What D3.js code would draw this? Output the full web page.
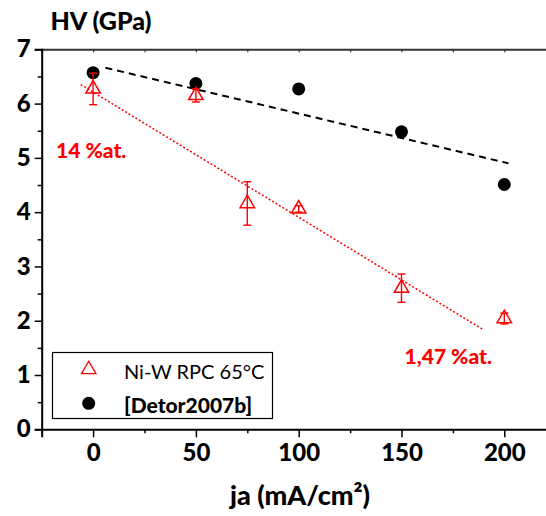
<!DOCTYPE html>
<html><head><meta charset="utf-8">
<script src="https://cdn.jsdelivr.net/npm/d3@7"></script>
<style>body{margin:0;background:#fff}svg{display:block}</style>
</head><body><svg id="c" width="546" height="516"></svg>
<script>
// ---- data ----
const currents = [0, 50, 75, 100, 150, 200];
const hvNiW = [6.27, 6.15, 4.16, 4.06, 2.60, 2.04];
const errNiW = [0.29, 0.12, 0.40, 0.06, 0.26, 0.10];
const detorCurrents = [0, 50, 100, 150, 200];
const hvDetor = [6.57, 6.37, 6.27, 5.48, 4.51];
const fitNiWX = [-6, 190];
const fitNiWY = [6.35, 1.83];
const fitDetorX = [6, 202];
const fitDetorY = [6.66, 4.90];
const xTicks = [0, 50, 100, 150, 200];
const yTicks = [0, 1, 2, 3, 4, 5, 6, 7];
const legendLabels = ["Ni-W RPC 65°C", "[Detor2007b]"];
const annotations = [{t: "14 %at.", x: -18, y: 5.0}, {t: "1,47 %at.", x: 151.5, y: 1.2}];

const svg = d3.select("#c");
const FONT = "Lato, 'Open Sans', sans-serif";
const HEAVY = 900;
const RED = "#ff0000";

const x = d3.scaleLinear().domain([-25, 225]).range([41.7, 555.7]);
const y = d3.scaleLinear().domain([0, 7]).range([429.3, 49.3]);

// top border with inward ticks
const topAxis = d3.axisTop(x).tickValues(d3.range(-25, 226, 25)).tickSize(-3).tickFormat("");
const gTop = svg.append("g").attr("transform", `translate(0,${y(7)})`).call(topAxis);
gTop.select(".domain").attr("stroke", "#333").attr("stroke-width", 2);
gTop.selectAll(".tick line").attr("stroke", "#333").attr("stroke-width", 1.2);

// bottom axis
const gx = svg.append("g").attr("transform", `translate(0,${y(0)})`);
gx.call(d3.axisBottom(x).tickValues(xTicks).tickSize(8).tickPadding(7).tickFormat(d3.format("d")));
gx.append("g").call(d3.axisBottom(x).tickValues(d3.range(-25, 226, 50)).tickSize(4).tickFormat(""))
  .select(".domain").remove();
gx.selectAll(".domain").attr("stroke", "#000").attr("stroke-width", 2);
gx.selectAll(".tick line").attr("stroke", "#000").attr("stroke-width", 1.5);
gx.selectAll(".tick text").attr("font-family", FONT).attr("font-weight", HEAVY).attr("font-size", 24).attr("fill", "#000");

// left axis
const gy = svg.append("g").attr("transform", `translate(${x(-25)},0)`);
gy.call(d3.axisLeft(y).tickValues(yTicks).tickSize(7).tickPadding(4).tickFormat(d3.format("d")));
gy.append("g").call(d3.axisLeft(y).tickValues(d3.range(0.5, 7, 1)).tickSize(4).tickFormat(""))
  .select(".domain").remove();
gy.selectAll(".domain").attr("stroke", "#000").attr("stroke-width", 2);
gy.selectAll(".tick line").attr("stroke", "#000").attr("stroke-width", 1.5);
gy.selectAll(".tick text").attr("font-family", FONT).attr("font-weight", HEAVY).attr("font-size", 24).attr("fill", "#000");

// fit lines
const line = d3.line().x(d => x(d[0])).y(d => y(d[1]));
svg.append("path").datum(d3.zip(fitDetorX, fitDetorY)).attr("d", line)
  .attr("fill", "none").attr("stroke", "#000").attr("stroke-width", 2).attr("stroke-dasharray", "7,5");
svg.append("path").datum(d3.zip(fitNiWX, fitNiWY)).attr("d", line)
  .attr("fill", "none").attr("stroke", RED).attr("stroke-width", 1.5).attr("stroke-dasharray", "2,2");

// Detor points
svg.append("g").selectAll("circle").data(d3.zip(detorCurrents, hvDetor)).join("circle")
  .attr("cx", d => x(d[0])).attr("cy", d => y(d[1])).attr("r", 6.5).attr("fill", "#000");

// Ni-W error bars
const niw = currents.map((c, i) => ({c, v: hvNiW[i], e: errNiW[i]}));
const eb = svg.append("g").attr("stroke", RED).attr("stroke-width", 1.4).attr("fill", "none");
niw.forEach(d => {
  const cx = x(d.c);
  eb.append("line").attr("x1", cx).attr("x2", cx).attr("y1", y(d.v - d.e)).attr("y2", y(d.v + d.e));
  [d.v - d.e, d.v + d.e].forEach(v => eb.append("line").attr("x1", cx - 4).attr("x2", cx + 4).attr("y1", y(v)).attr("y2", y(v)));
});
const tri = d3.symbol().type(d3.symbolTriangle).size(90);
svg.append("g").selectAll("path").data(niw).join("path")
  .attr("d", tri).attr("transform", d => `translate(${x(d.c)},${y(d.v)})`)
  .attr("fill", "none").attr("stroke", RED).attr("stroke-width", 1.5);

// annotations
svg.append("g").selectAll("text").data(annotations).join("text")
  .attr("x", d => x(d.x)).attr("y", d => y(d.y)).text(d => d.t)
  .attr("font-family", FONT).attr("font-weight", HEAVY).attr("font-size", 21).attr("fill", RED);

// titles
svg.append("text").attr("x", 50.5).attr("y", 30).text("HV (GPa)")
  .attr("font-family", FONT).attr("font-weight", HEAVY).attr("font-size", 25).attr("fill", "#000");
svg.append("text").attr("x", 300).attr("y", 505).attr("text-anchor", "middle").text("ja (mA/cm²)")
  .attr("font-family", FONT).attr("font-weight", HEAVY).attr("font-size", 27).attr("fill", "#000");

// legend
const lg = svg.append("g");
lg.append("rect").attr("x", 52.5).attr("y", 352.5).attr("width", 220).attr("height", 66)
  .attr("fill", "#fff").attr("stroke", "#000").attr("stroke-width", 1.2);
lg.append("path").attr("d", tri).attr("transform", "translate(88.7,369.5)")
  .attr("fill", "none").attr("stroke", RED).attr("stroke-width", 1.3);
lg.append("circle").attr("cx", 88.7).attr("cy", 403.3).attr("r", 6.5).attr("fill", "#000");
lg.append("text").attr("x", 124).attr("y", 378.5).text(legendLabels[0])
  .attr("font-family", FONT).attr("font-size", 20).attr("fill", "#000");
lg.append("text").attr("x", 124).attr("y", 412.5).text(legendLabels[1])
  .attr("font-family", FONT).attr("font-weight", HEAVY).attr("font-size", 21).attr("fill", "#000");
</script></body></html>
